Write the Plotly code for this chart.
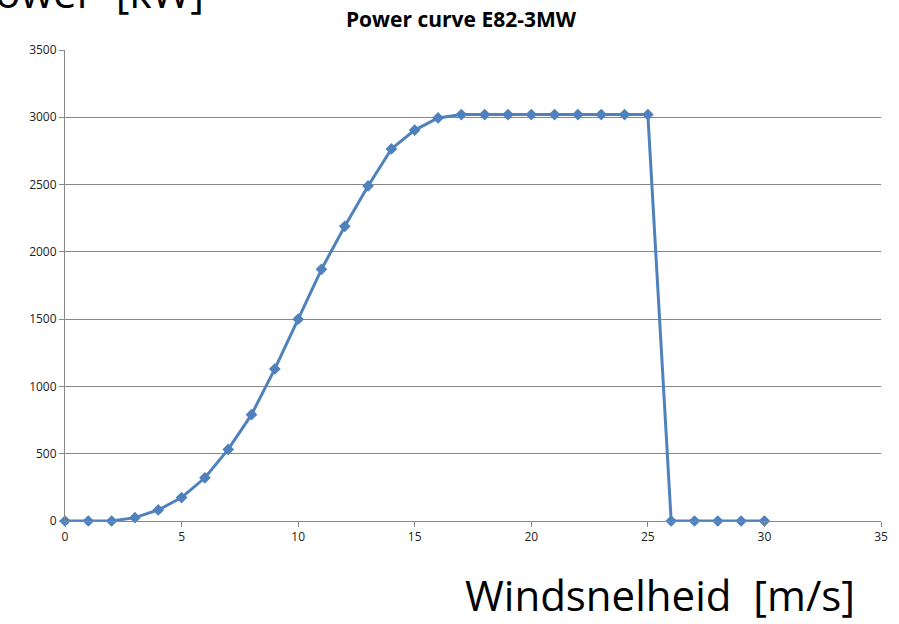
import plotly.graph_objects as go

wind_speed = list(range(0, 31))
power_kw = [0, 0, 0, 25, 82, 174, 321, 532, 790, 1130, 1500, 1870, 2190, 2490, 2765, 2905, 2995,
            3020, 3020, 3020, 3020, 3020, 3020, 3020, 3020, 3020, 0, 0, 0, 0, 0]
x_ticks = [0, 5, 10, 15, 20, 25, 30, 35]
y_ticks = [0, 500, 1000, 1500, 2000, 2500, 3000, 3500]

W, H = 899, 624
L, R, T, B = 65, 11, 50, 103
PW, PH = W - L - R, H - T - B


def px_x(p):
    return (p - L) / PW


def px_y(p):
    return (H - B - p) / PH


fig = go.Figure()
fig.add_trace(go.Scatter(
    x=wind_speed, y=power_kw, mode="lines+markers",
    line=dict(color="#4F81BD", width=3),
    marker=dict(symbol="diamond", size=9, color="#4F81BD"),
    cliponaxis=False,
    showlegend=False,
))

fig.update_layout(
    width=W, height=H,
    margin=dict(l=L, r=R, t=T, b=B),
    paper_bgcolor="white", plot_bgcolor="white",
    font=dict(family="Open Sans, sans-serif", color="#222"),
    title=dict(text="<b>Power curve E82-3MW</b>", x=461 / W, xanchor="center",
               y=1 - 20 / H, yanchor="middle", font=dict(size=21, color="black")),
    xaxis=dict(range=[0, 35], tickvals=x_ticks, showgrid=False, zeroline=False,
               showline=True, linecolor="#888", linewidth=1,
               ticks="outside", ticklen=5, tickcolor="#888",
               tickfont=dict(size=12, color="#222")),
    yaxis=dict(range=[0, 3500], tickvals=y_ticks, showgrid=True, gridcolor="#888",
               gridwidth=1, zeroline=False, showline=True, linecolor="#888",
               linewidth=1, ticks="outside", ticklen=5, tickcolor="#888",
               tickfont=dict(size=12, color="#222")),
    annotations=[
        dict(text="Windsnelheid  [m/s]", xref="paper", yref="paper",
             x=px_x(864), y=px_y(594),
             xanchor="right", yanchor="middle", showarrow=False,
             font=dict(size=42, color="black")),
        dict(text="Power  [kW]", xref="paper", yref="paper",
             x=px_x(207), y=px_y(-9),
             xanchor="right", yanchor="middle", showarrow=False,
             font=dict(size=42, color="black")),
    ],
)

fig.write_html("out.html")
